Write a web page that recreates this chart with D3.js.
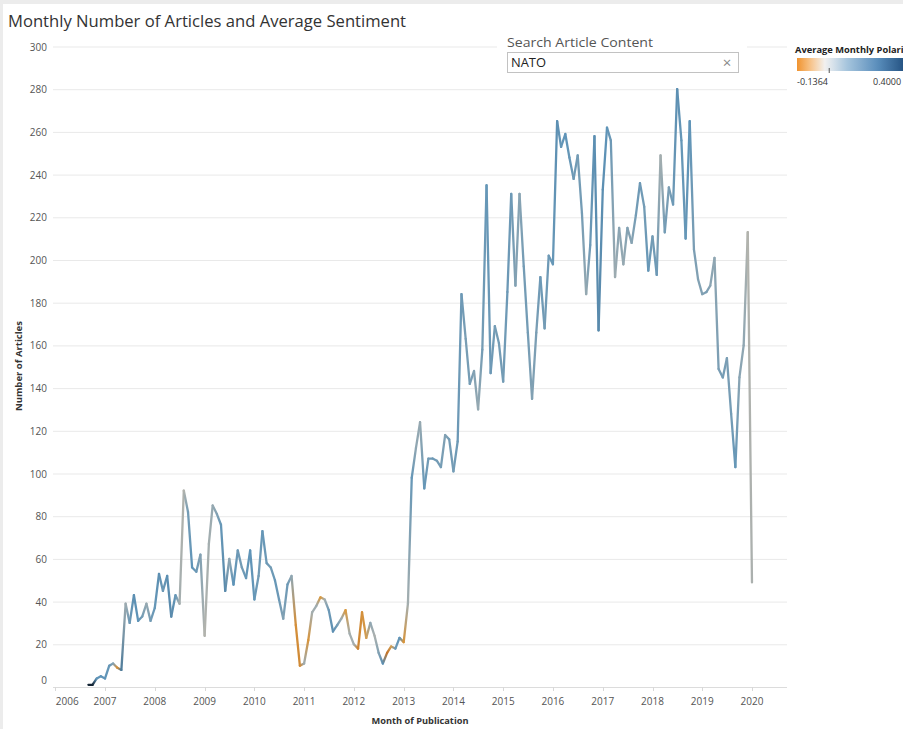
<!DOCTYPE html>
<html><head><meta charset="utf-8">
<script src="https://cdn.jsdelivr.net/npm/d3@7"></script>
<style>html,body{margin:0;padding:0;background:#fff;overflow:hidden;} svg{display:block;font-family:"Open Sans","Noto Sans",sans-serif;}</style>
</head><body><svg id="c" width="903" height="729"></svg>
<script>
// ---- data ----
const firstMonth = "2006-09";
const articleCounts = [
  1, 1, 4, 5,                                           // 2006 Sep-Dec
  4, 10, 11, 9, 8, 39, 30, 43, 31, 33, 39, 31,          // 2007
  37, 53, 45, 52, 33, 43, 39, 92, 82, 56, 54, 62,       // 2008
  24, 67, 85, 81, 76, 45, 60, 48, 64, 56, 51, 64,       // 2009
  41, 52, 73, 58, 56, 50, 41, 32, 48, 52, 29, 10,       // 2010
  11, 22, 35, 38, 42, 41, 36, 26, 29, 32, 36, 25,       // 2011
  20, 18, 35, 23, 30, 24, 16, 11, 16, 19, 18, 23,       // 2012
  21, 39, 98, 112, 124, 93, 107, 107, 106, 103, 118, 116, // 2013
  101, 115, 184, 163, 142, 148, 130, 158, 235, 147, 169, 161, // 2014
  143, 185, 231, 188, 231, 197, 166, 135, 166, 192, 168, 202, // 2015
  198, 265, 253, 259, 248, 238, 249, 222, 184, 207, 258, 167, // 2016
  233, 262, 256, 192, 215, 198, 215, 208, 221, 236, 225, 195, // 2017
  211, 193, 249, 213, 234, 226, 280, 256, 210, 265, 205, 191, // 2018
  184, 185, 188, 201, 149, 145, 154, 128, 103, 145, 160, 213, // 2019
  49                                                     // 2020 Jan
];
const avgPolarity = [
  0.38, 0.38, 0.15, 0.15,
  0.15, 0.14, 0.10, -0.05, 0.20, 0.06, 0.13, 0.16, 0.15, 0.12, 0.07, 0.12,
  0.14, 0.16, 0.13, 0.16, 0.17, 0.14, 0.05, 0.03, 0.12, 0.15, 0.13, 0.10,
  0.03, 0.05, 0.07, 0.10, 0.14, 0.17, 0.08, 0.15, 0.13, 0.12, 0.14, 0.15,
  0.14, 0.12, 0.14, 0.13, 0.12, 0.14, 0.13, 0.10, 0.13, 0.08, -0.05, -0.06,
  0.06, -0.04, 0.05, 0.06, -0.03, 0.05, 0.13, 0.16, 0.12, 0.06, -0.03, 0.05,
  0.05, -0.07, -0.05, -0.02, 0.08, 0.04, 0.10, 0.16, -0.10, -0.02, 0.13, 0.15,
  -0.04, 0.05, 0.14, 0.08, 0.07, 0.14, 0.12, 0.13, 0.12, 0.12, 0.10, 0.12,
  0.12, 0.13, 0.13, 0.11, 0.12, 0.10, 0.07, 0.12, 0.14, 0.13, 0.12, 0.12,
  0.12, 0.13, 0.13, 0.10, 0.09, 0.12, 0.12, 0.10, 0.11, 0.13, 0.12, 0.13,
  0.14, 0.16, 0.14, 0.15, 0.14, 0.13, 0.12, 0.12, 0.07, 0.13, 0.16, 0.17,
  0.16, 0.15, 0.13, 0.06, 0.09, 0.07, 0.10, 0.09, 0.12, 0.13, 0.12, 0.14,
  0.12, 0.13, 0.05, 0.12, 0.11, 0.13, 0.16, 0.14, 0.14, 0.15, 0.11, 0.10,
  0.10, 0.11, 0.09, 0.08, 0.11, 0.12, 0.11, 0.12, 0.14, 0.09, 0.08, 0.03,
  0.04
];
const yTicks = [0, 20, 40, 60, 80, 100, 120, 140, 160, 180, 200, 220, 240, 260, 280, 300];
const xTickYears = [2006, 2007, 2008, 2009, 2010, 2011, 2012, 2013, 2014, 2015, 2016, 2017, 2018, 2019, 2020];
const legendDomain = [-0.1364, 0.4000];
const legendLabels = ["-0.1364", "0.4000"];
const chartTitle = "Monthly Number of Articles and Average Sentiment";
const yTitle = "Number of Articles";
const xTitle = "Month of Publication";
const filterTitle = "Search Article Content";
const filterValue = "NATO";
const legendTitle = "Average Monthly Polarity";

// ---- drawing ----
const svg = d3.select("#c");
const W = 903, H = 729;
svg.append("rect").attr("width", W).attr("height", H).attr("fill", "#ececec");
svg.append("rect").attr("x", 3).attr("y", 4).attr("width", W).attr("height", H).attr("fill", "#fff");

const parse = d3.timeParse("%Y-%m");
const start = parse(firstMonth);
const data = articleCounts.map((v, i) => ({ date: d3.timeMonth.offset(start, i), value: v, pol: avgPolarity[i] }));

const x = d3.scaleTime().domain([new Date(2006, 0, 1), new Date(2021, 0, 1)]).range([55.3, 55.3 + 49.77 * 15]);
const y = d3.scaleLinear().domain([0, 300]).range([687, 46.5]);
const plotL = 53, plotR = 787;

const lineColor = d3.scaleLinear()
  .domain([-0.1364, -0.03, 0.03, 0.15, 0.4])
  .range(["#b8621e", "#da9a40", "#b2b3ad", "#5f94b8", "#0e1a28"])
  .interpolate(d3.interpolateRgb).clamp(true);

// title
svg.append("text").attr("x", 8).attr("y", 27).attr("font-size", 17).attr("fill", "#333")
  .attr("textLength", 398).attr("lengthAdjust", "spacingAndGlyphs").text(chartTitle);

// gridlines
const grid = svg.append("g");
grid.selectAll("line").data(yTicks).join("line")
  .attr("x1", plotL).attr("x2", plotR)
  .attr("y1", d => y(d) + 0.5).attr("y2", d => y(d) + 0.5)
  .attr("stroke", d => d === 0 ? "#dcdcdc" : "#e9e9e9").attr("stroke-width", 1);

// y axis labels
svg.append("g").selectAll("text").data(yTicks).join("text")
  .attr("x", 47).attr("y", d => y(d) + 4 - (d === 0 ? 7 : 0))
  .attr("text-anchor", "end").attr("font-size", 10).attr("fill", "#555")
  .text(d => d);

// x axis ticks + labels
const xg = svg.append("g");
xg.selectAll("line").data(xTickYears).join("line")
  .attr("x1", d => Math.round(x(new Date(d, 0, 1))) + 0.5)
  .attr("x2", d => Math.round(x(new Date(d, 0, 1))) + 0.5)
  .attr("y1", 687).attr("y2", 691).attr("stroke", "#d8d8d8");
xg.selectAll("text").data(xTickYears).join("text")
  .attr("x", (d, i) => x(new Date(d, 0, 1)) + (i === 0 ? 12 : 0))
  .attr("y", 705).attr("text-anchor", "middle").attr("font-size", 10).attr("fill", "#555")
  .text(d => d);

// axis titles
svg.append("text").attr("transform", "translate(22,366) rotate(-90)")
  .attr("text-anchor", "middle").attr("font-size", 9).attr("font-weight", "bold").attr("fill", "#333")
  .attr("textLength", 90).attr("lengthAdjust", "spacingAndGlyphs").text(yTitle);
svg.append("text").attr("x", 420).attr("y", 724)
  .attr("text-anchor", "middle").attr("font-size", 9).attr("font-weight", "bold").attr("fill", "#333")
  .attr("textLength", 97).attr("lengthAdjust", "spacingAndGlyphs").text(xTitle);

// filter panel (covers gridlines)
svg.append("rect").attr("x", 497).attr("y", 30).attr("width", 250).attr("height", 57).attr("fill", "#fff");
svg.append("text").attr("x", 507).attr("y", 47).attr("font-size", 13).attr("fill", "#555")
  .attr("textLength", 146).attr("lengthAdjust", "spacingAndGlyphs").text(filterTitle);
svg.append("rect").attr("x", 507.5).attr("y", 52.5).attr("width", 231).attr("height", 20)
  .attr("fill", "#fff").attr("stroke", "#c2c2c2");
svg.append("text").attr("x", 511).attr("y", 67).attr("font-size", 12).attr("fill", "#222")
  .attr("textLength", 35).attr("lengthAdjust", "spacingAndGlyphs").text(filterValue);
svg.append("text").attr("x", 727).attr("y", 68).attr("text-anchor", "middle").attr("font-size", 15).attr("fill", "#888").text("\u00d7");

// line with per-segment gradients
const defs = svg.append("defs");
const pts = data.map(d => ({ px: x(d.date), py: y(d.value), c: lineColor(d.pol) }));
const segs = d3.pairs(pts);
segs.forEach((s, i) => {
  const g = defs.append("linearGradient").attr("id", "g" + i).attr("gradientUnits", "userSpaceOnUse")
    .attr("x1", s[0].px).attr("y1", s[0].py).attr("x2", s[1].px).attr("y2", s[1].py);
  g.append("stop").attr("offset", 0).attr("stop-color", s[0].c);
  g.append("stop").attr("offset", 1).attr("stop-color", s[1].c);
});
svg.append("g").selectAll("path").data(segs).join("path")
  .attr("d", s => d3.line()([[s[0].px, s[0].py], [s[1].px + (s[1].px - s[0].px === 0 ? 0.01 : 0), s[1].py + (s[1].py - s[0].py === 0 ? 0.01 : 0)]]))
  .attr("fill", "none").attr("stroke", (s, i) => `url(#g${i})`)
  .attr("stroke-width", 2.3).attr("stroke-linecap", "round");

// legend
const lg = svg.append("g");
lg.append("text").attr("x", 795).attr("y", 53).attr("font-size", 9).attr("font-weight", "bold").attr("fill", "#222")
  .attr("textLength", 118).attr("lengthAdjust", "spacingAndGlyphs").text(legendTitle);
const legX = d3.scaleLinear().domain(legendDomain).range([797, 908]);
const legColor = d3.scaleLinear()
  .domain([-0.1364, -0.07, 0, 0.1, 0.25, 0.4])
  .range(["#f0932f", "#f8c48a", "#f2f2f2", "#a9c7de", "#5b8fbd", "#1d4a7a"]);
const lgrad = defs.append("linearGradient").attr("id", "leg").attr("x1", 0).attr("x2", 1).attr("y1", 0).attr("y2", 0);
d3.range(0, 1.0001, 0.05).forEach(t => {
  const v = legendDomain[0] + t * (legendDomain[1] - legendDomain[0]);
  lgrad.append("stop").attr("offset", t).attr("stop-color", legColor(v));
});
lg.append("rect").attr("x", legX(legendDomain[0])).attr("y", 58).attr("width", legX(legendDomain[1]) - legX(legendDomain[0]))
  .attr("height", 13).attr("fill", "url(#leg)");
lg.append("line").attr("x1", legX(0) + 4).attr("x2", legX(0) + 4).attr("y1", 68).attr("y2", 73).attr("stroke", "#555");
lg.append("text").attr("x", legX(legendDomain[0])).attr("y", 85).attr("font-size", 9).attr("fill", "#333").text(legendLabels[0]);
lg.append("text").attr("x", 873).attr("y", 85).attr("font-size", 9).attr("fill", "#333").text(legendLabels[1]);
</script></body></html>
